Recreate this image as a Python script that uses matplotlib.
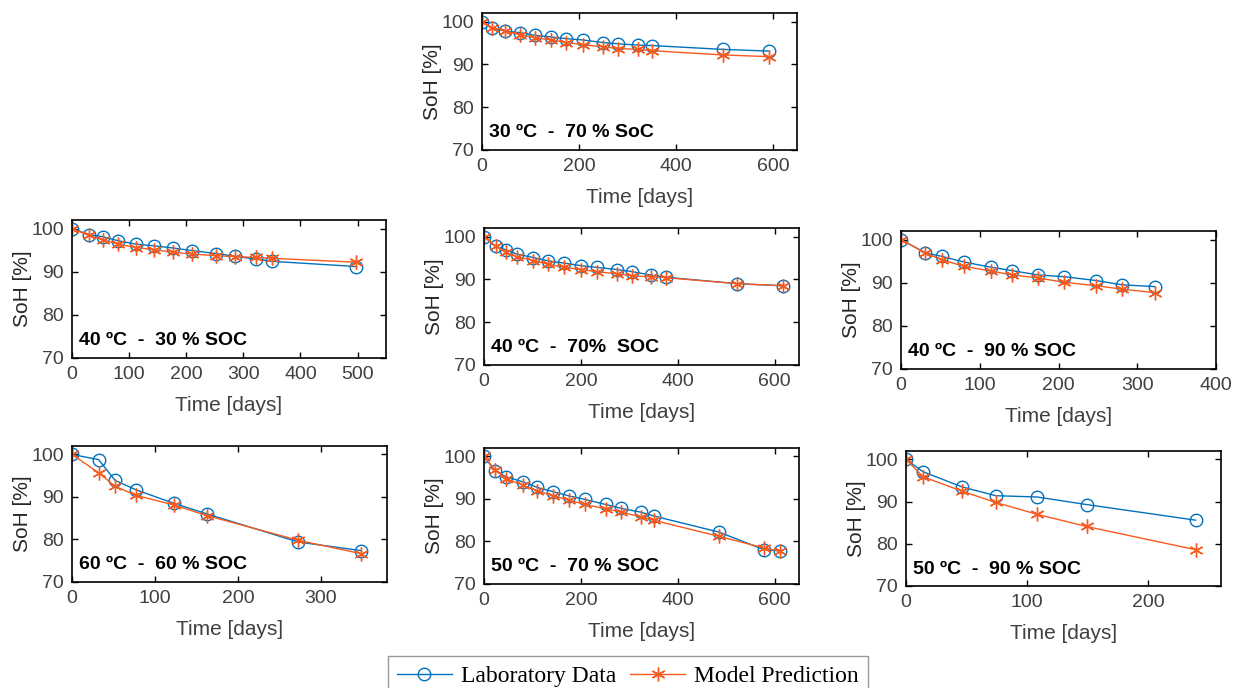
import matplotlib.pyplot as plt
import numpy as np

plt.rcParams['font.family'] = ['Liberation Sans', 'DejaVu Sans']

# 30 ºC - 70 % SoC
t_30_70 = [0, 21, 47, 79, 109, 143, 174, 208, 249, 281, 322, 350, 497, 593]
lab_30_70 = [100, 98.4, 97.8, 97.4, 96.8, 96.4, 96.0, 95.7, 95.1, 94.8, 94.5, 94.4, 93.5, 93.1]
mod_30_70 = [100, 98.6, 97.8, 96.9, 96.2, 95.7, 95.1, 94.6, 94.1, 93.7, 93.5, 93.2, 92.2, 91.8]

# 40 ºC - 30 % SOC
t_40_30 = [0, 30, 54, 80, 112, 144, 177, 210, 253, 285, 323, 351, 498]
lab_40_30 = [100, 98.6, 98.1, 97.2, 96.4, 96.0, 95.5, 94.9, 94.2, 93.6, 92.9, 92.4, 91.2]
mod_40_30 = [100, 98.4, 97.4, 96.4, 95.6, 95.1, 94.5, 94.1, 93.7, 93.5, 93.3, 93.1, 92.2]

# 40 ºC - 70 % SOC
t_40_70 = [0, 24, 45, 68, 102, 133, 166, 200, 233, 274, 306, 345, 375, 522, 617]
lab_40_70 = [100, 97.7, 96.9, 95.9, 95.1, 94.3, 93.8, 93.2, 92.8, 92.3, 91.8, 91.0, 90.5, 89.0, 88.5]
mod_40_70 = [100, 97.7, 96.3, 95.3, 94.4, 93.5, 92.8, 92.3, 91.8, 91.3, 90.8, 90.6, 90.4, 89.0, 88.5]

# 40 ºC - 90 % SOC
t_40_90 = [0, 31, 52, 80, 114, 141, 174, 207, 248, 281, 322]
lab_40_90 = [100, 96.9, 96.1, 94.8, 93.6, 92.8, 91.8, 91.4, 90.5, 89.5, 89.1]
mod_40_90 = [100, 96.9, 95.3, 93.8, 92.7, 91.8, 91.1, 90.1, 89.3, 88.5, 87.7]

# 60 ºC - 60 % SOC
t_60_60 = [0, 32, 52, 77, 123, 163, 273, 348]
lab_60_60 = [100, 98.8, 93.9, 91.7, 88.5, 86.0, 79.4, 77.4]
mod_60_60 = [100, 95.7, 92.5, 90.4, 88.1, 85.6, 79.8, 76.7]

# 50 ºC - 70 % SOC
t_50_70 = [0, 23, 46, 81, 110, 143, 176, 208, 251, 283, 323, 350, 485, 577, 610]
lab_50_70 = [100, 96.6, 95.2, 94.0, 92.7, 91.7, 90.7, 89.9, 88.7, 87.8, 86.9, 86.0, 82.2, 78.1, 77.8]
mod_50_70 = [100, 96.8, 94.8, 93.2, 91.9, 90.7, 89.7, 88.7, 87.7, 86.9, 85.8, 85.0, 81.2, 78.5, 77.7]

# 50 ºC - 90 % SOC
t_50_90 = [0, 14, 46, 74, 108, 149, 239]
lab_50_90 = [100, 97.1, 93.5, 91.4, 91.1, 89.3, 85.6]
mod_50_90 = [100, 95.9, 92.5, 89.8, 87.0, 84.1, 78.6]

titles = ['30 ºC  -  70 % SoC', '40 ºC  -  30 % SOC', '40 ºC  -  70%  SOC', '40 ºC  -  90 % SOC',
          '60 ºC  -  60 % SOC', '50 ºC  -  70 % SOC', '50 ºC  -  90 % SOC']

c_lab = '#0072BD'
c_mod = '#F85A1E'

fig = plt.figure(figsize=(12.35, 6.88), dpi=100)

panels = [
    ([0.3903, 0.7820, 0.2551, 0.1991], t_30_70, lab_30_70, mod_30_70, 650, [0, 200, 400, 600]),
    ([0.0583, 0.4797, 0.2543, 0.2006], t_40_30, lab_40_30, mod_40_30, 550, [0, 100, 200, 300, 400, 500]),
    ([0.3919, 0.4695, 0.2551, 0.1991], t_40_70, lab_40_70, mod_40_70, 650, [0, 200, 400, 600]),
    ([0.7296, 0.4637, 0.2551, 0.2006], t_40_90, lab_40_90, mod_40_90, 400, [0, 100, 200, 300, 400]),
    ([0.0583, 0.1541, 0.2551, 0.1977], t_60_60, lab_60_60, mod_60_60, 380, [0, 100, 200, 300]),
    ([0.3919, 0.1512, 0.2551, 0.1977], t_50_70, lab_50_70, mod_50_70, 650, [0, 200, 400, 600]),
    ([0.7336, 0.1483, 0.2551, 0.1962], t_50_90, lab_50_90, mod_50_90, 260, [0, 100, 200]),
]

for i, (pos, t, lab, mod, xmax, xt) in enumerate(panels):
    ax = fig.add_axes(pos)
    l1, = ax.plot(t, lab, '-o', color=c_lab, lw=1.0, ms=9, mfc='none', mew=1.0,
                  label='Laboratory Data')
    l2, = ax.plot(t, mod, '-', marker=(6, 2, 0), color=c_mod, lw=1.0, ms=10, mew=1.0,
                  label='Model Prediction')
    ax.set_xlim(0, xmax)
    ax.set_ylim(70, 102)
    ax.set_xticks(xt)
    ax.set_yticks([70, 80, 90, 100])
    ax.tick_params(direction='in', top=True, right=True, length=4, width=1,
                   labelsize=14, labelcolor='#404040', pad=6)
    for s in ax.spines.values():
        s.set_linewidth(1.2)
    ax.set_xlabel('Time [days]', fontsize=15, color='#404040', labelpad=9)
    ax.set_ylabel('SoH [%]', fontsize=15, color='#262626', labelpad=-0.5)
    ax.text(0.022, 0.125, titles[i], transform=ax.transAxes, fontsize=14,
            fontweight='bold', va='center', ha='left')

leg = fig.legend([l1, l2], ['Laboratory Data', 'Model Prediction'], loc='upper center',
                 bbox_to_anchor=(628 / 1235, 1 - 656 / 688), ncol=2, frameon=True,
                 fancybox=False, edgecolor='#808080', handlelength=2.3, columnspacing=0.6,
                 handletextpad=0.4, borderpad=0.4, borderaxespad=0,
                 prop={'family': 'Liberation Serif', 'size': 17})
leg.get_frame().set_linewidth(1.0)

fig.savefig('out.png', dpi=100)
